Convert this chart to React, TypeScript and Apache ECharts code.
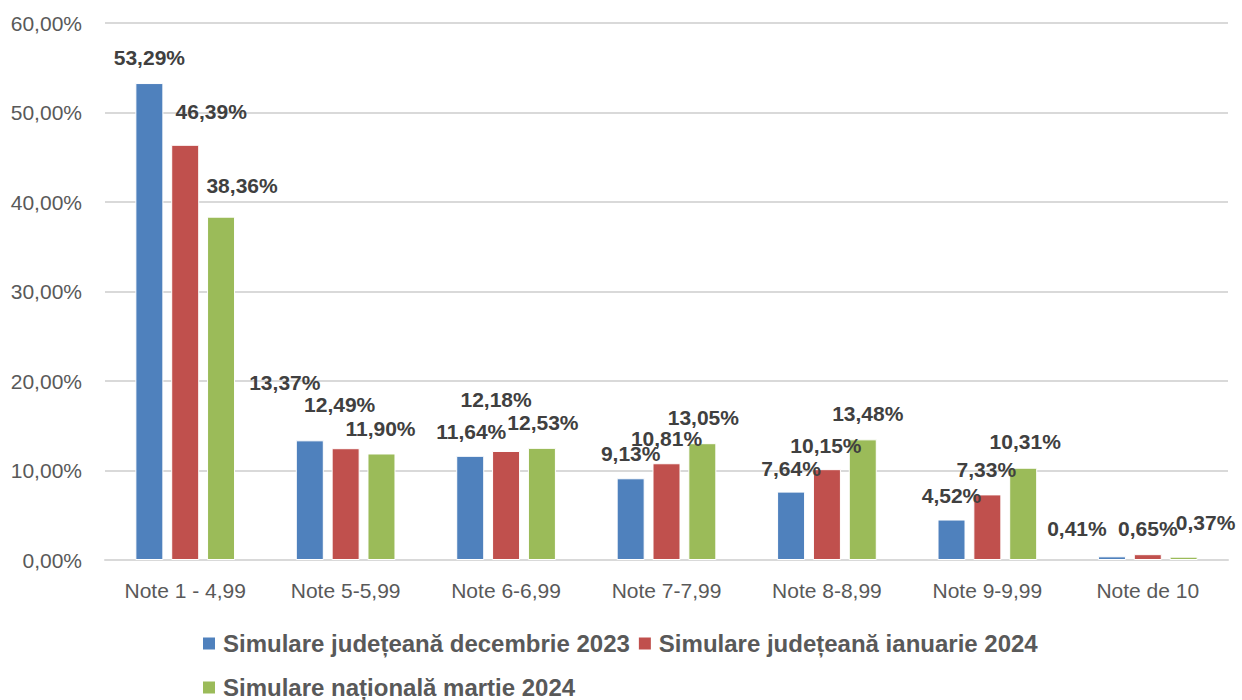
import React, { useEffect, useRef } from "react";
import * as echarts from "echarts";

const categories = ["Note 1 - 4,99", "Note 5-5,99", "Note 6-6,99", "Note 7-7,99", "Note 8-8,99", "Note 9-9,99", "Note de 10"];
const seriesNames = [
  "Simulare județeană decembrie 2023",
  "Simulare județeană ianuarie 2024",
  "Simulare națională martie 2024",
];
const dec2023 = [53.29, 13.37, 11.64, 9.13, 7.64, 4.52, 0.41];
const ian2024 = [46.39, 12.49, 12.18, 10.81, 10.15, 7.33, 0.65];
const mar2024 = [38.36, 11.9, 12.53, 13.05, 13.48, 10.31, 0.37];
const yTicks = [0, 10, 20, 30, 40, 50, 60];

// manual label offsets (as moved in the original spreadsheet)
const labelOffsets = [
  [[0, -1], [-25, -33], [1, 1], [0, 0], [0, 2], [0, 1], [-35, -3]],
  [[26, -8], [-6, -19], [-10, -26], [0, 0], [-1, 1], [-1, 0], [0, -1]],
  [[21, -6], [-1, 0], [1, 0], [1, -1], [5, -1], [2, -1], [22, -9]],
];
const colors = ["#4F81BD", "#C0504D", "#9BBB59"];

const fmt = (v: number) => v.toFixed(2).replace(".", ",") + "%";

export default function App() {
  const ref = useRef<HTMLDivElement>(null);
  useEffect(() => {
    if (!ref.current) return;
    const chart = echarts.init(ref.current, null, { renderer: "svg" });
    const allData = [dec2023, ian2024, mar2024];
    chart.setOption({
      animation: false,
      backgroundColor: "#ffffff",
      textStyle: { fontFamily: "Arial, 'Liberation Sans', sans-serif" },
      grid: { left: 105, right: 14, top: 23, bottom: 140, containLabel: false },
      legend: {
        left: 201,
        top: 625,
        padding: 0,
        width: 870,
        itemWidth: 14,
        itemHeight: 14,
        itemGap: 7,
        icon: "rect",
        data: seriesNames,
        textStyle: {
          fontFamily: "Arial, 'Liberation Sans', sans-serif",
          fontWeight: "bold",
          fontSize: 24,
          color: "#595959",
          lineHeight: 37,
          padding: [0, 0, 0, 2],
        },
      },
      xAxis: {
        type: "category",
        data: categories,
        axisLine: { show: true, lineStyle: { color: "#D9D9D9", width: 2 } },
        axisTick: { show: false },
        axisLabel: { color: "#595959", fontSize: 21, margin: 20, interval: 0 },
      },
      yAxis: {
        type: "value",
        min: yTicks[0],
        max: yTicks[yTicks.length - 1],
        interval: 10,
        axisLine: { show: false },
        axisTick: { show: false },
        splitLine: { lineStyle: { color: "#D9D9D9", width: 2 } },
        axisLabel: { color: "#595959", fontSize: 21, margin: 23, formatter: (v: number) => fmt(v) },
      },
      series: allData.map((d, si) => ({
        name: seriesNames[si],
        type: "bar",
        barWidth: 28,
        barGap: "28%",
        itemStyle: { color: colors[si], borderColor: "#ffffff", borderWidth: 1 },
        data: d.map((v, i) => ({
          value: v,
          label: { offset: labelOffsets[si][i] },
        })),
        label: {
          show: true,
          position: "top",
          distance: 14,
          color: "#404040",
          fontWeight: "bold",
          fontSize: 21,
          lineHeight: 22,
          formatter: (p: any) => fmt(p.value),
        },
      })),
    });
    return () => chart.dispose();
  }, []);
  return <div ref={ref} style={{ position: "fixed", left: 0, top: 0, width: 1242, height: 700 }} />;
}
